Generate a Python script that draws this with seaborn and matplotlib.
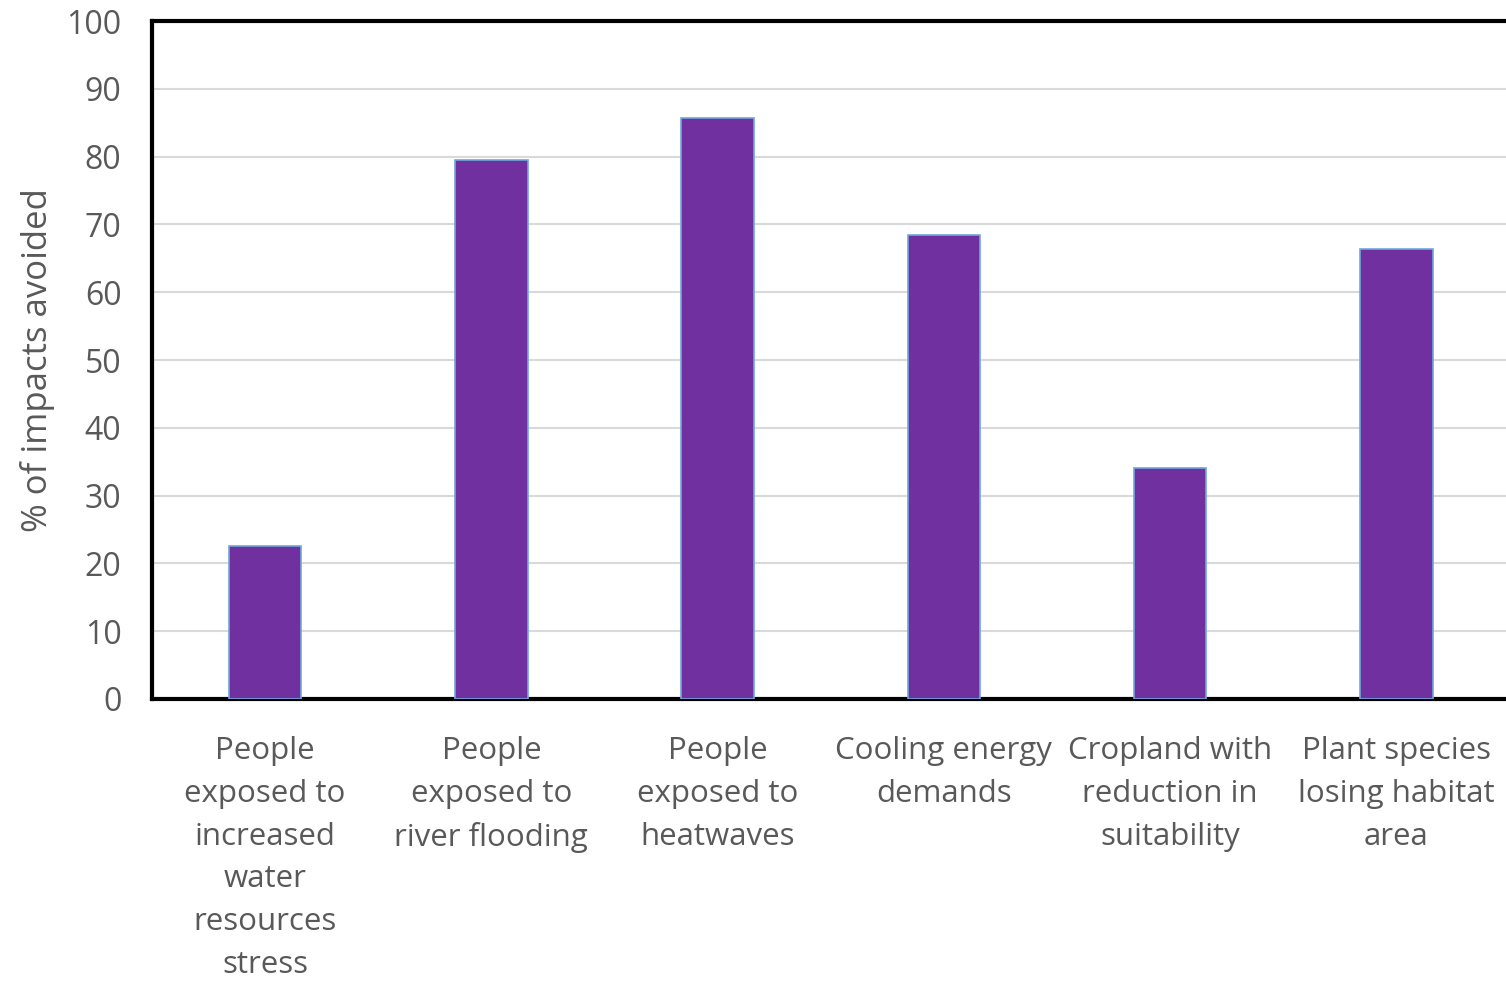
import matplotlib
matplotlib.use("Agg")
import matplotlib.pyplot as plt
import seaborn as sns
import pandas as pd

categories = [
    "People\nexposed to\nincreased\nwater\nresources\nstress",
    "People\nexposed to\nriver flooding",
    "People\nexposed to\nheatwaves",
    "Cooling energy\ndemands",
    "Cropland with\nreduction in\nsuitability",
    "Plant species\nlosing habitat\narea",
]
values = [22.5, 79.5, 85.7, 68.5, 34.0, 66.3]
y_ticks = [0, 10, 20, 30, 40, 50, 60, 70, 80, 90, 100]
y_label = "% of impacts avoided"

sns.set_theme(style="white")
plt.rcParams['font.family'] = ['Open Sans', 'DejaVu Sans']

df = pd.DataFrame({"cat": categories, "val": values})

fig = plt.figure(figsize=(15.06, 9.82), dpi=100)
ax = fig.add_axes([0.1009, 0.2882, 0.9015, 0.6904])

sns.barplot(data=df, x="cat", y="val", ax=ax, color="#7030A0", saturation=1,
            width=0.32, edgecolor="#6FA8DC", linewidth=1.2, zorder=3)

ax.set_ylim(0, 100)
ax.set_yticks(y_ticks)
ax.set_xlim(-0.5, len(categories) - 0.5)
ax.yaxis.grid(True, color="#D9D9D9", linewidth=1.5, zorder=0)
ax.set_axisbelow(True)

ax.tick_params(axis="x", length=0, labelsize=22.5, labelcolor="#595959", pad=27)
ax.tick_params(axis="y", length=0, labelsize=23, labelcolor="#595959", pad=22)
ax.set_xlabel("")
ax.set_ylabel(y_label, fontsize=25, color="#595959", labelpad=8)
for lbl in ax.get_xticklabels():
    lbl.set_linespacing(1.55)

for side in ["top", "left", "bottom"]:
    ax.spines[side].set_visible(True)
    ax.spines[side].set_color("black")
    ax.spines[side].set_linewidth(3)
ax.spines["right"].set_visible(False)

fig.savefig("out.png", dpi=100)
